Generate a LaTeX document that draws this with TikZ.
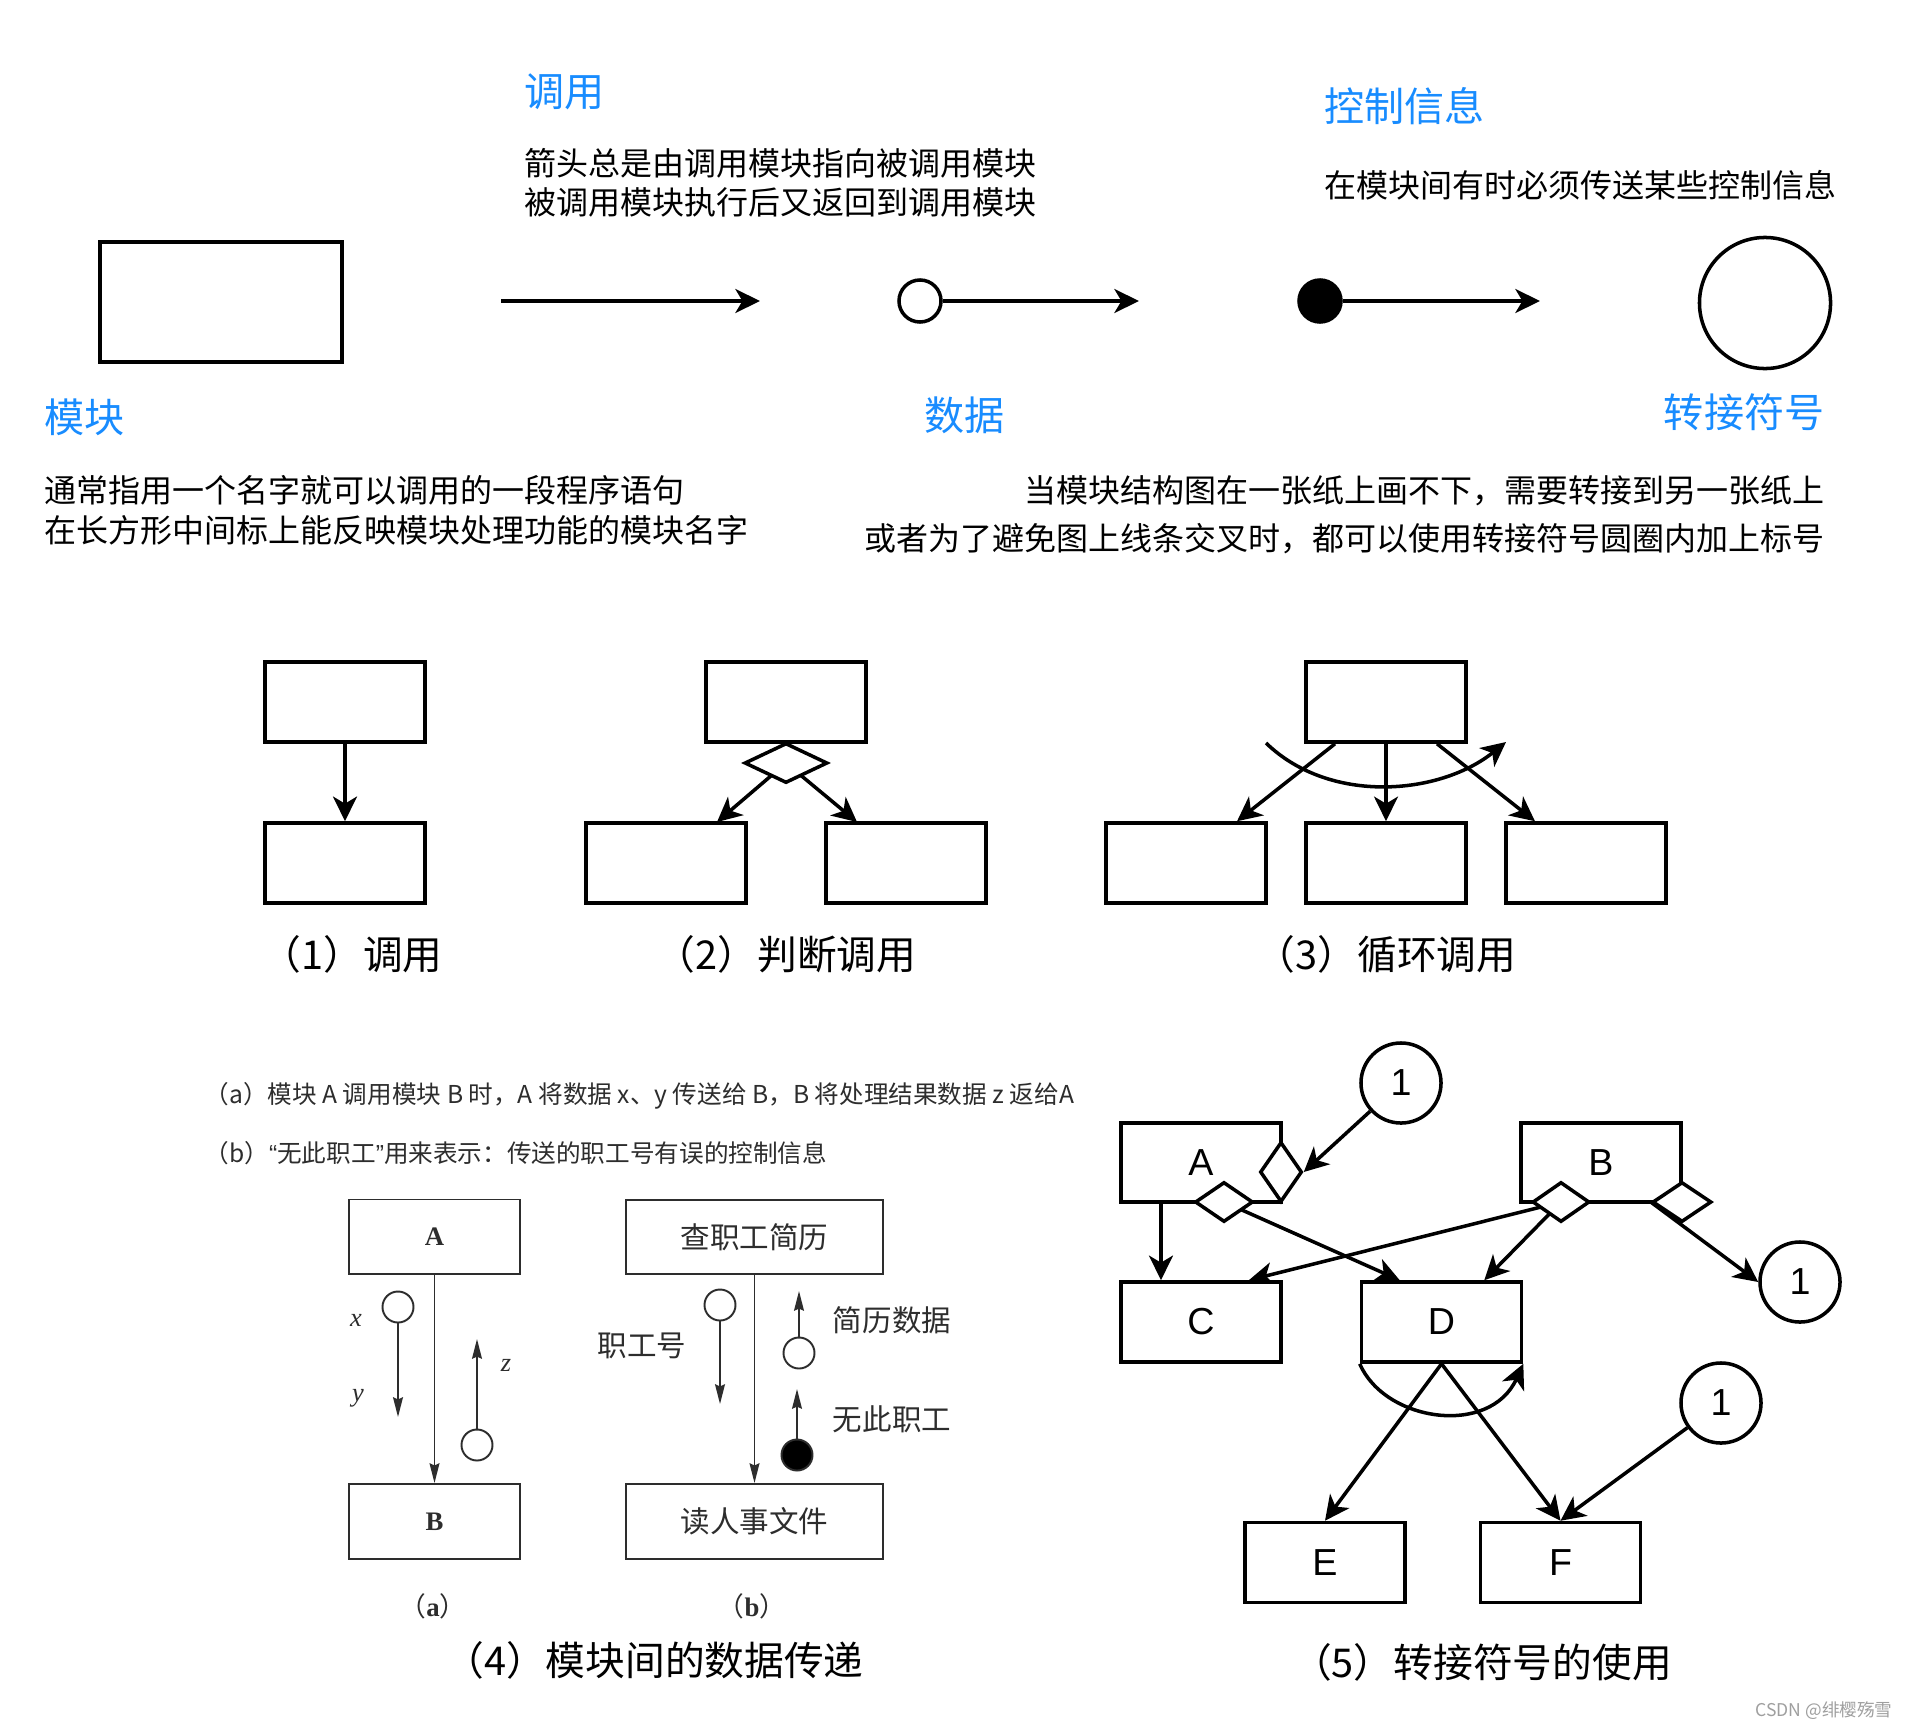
\documentclass[tikz,border=0pt]{standalone}
\usepackage{fontspec}
\setmainfont{Noto Sans CJK SC}
\newfontfamily\latsans{Liberation Sans}
\newfontfamily\latserif{Liberation Serif}
\usetikzlibrary{arrows.meta,shapes.geometric}
\definecolor{hblue}{RGB}{24,140,255}
\definecolor{dgray}{RGB}{45,45,45}
\pgfdeclarelayer{bgl}
\pgfdeclarelayer{lines}
\pgfsetlayers{bgl,lines,main}
\begin{document}
\begin{tikzpicture}[x=0.01cm,y=-0.01cm,
  hd/.style={text=hblue,inner sep=0pt,font=\fontsize{11.4pt}{13pt}\selectfont},
  bodytext/.style={inner sep=0pt,font=\fontsize{9.1pt}{11pt}\selectfont},
  capt/.style={inner sep=0pt,font=\fontsize{11.3pt}{13pt}\selectfont},
  bx/.style={draw,line width=1pt,fill=white,minimum width=1.6cm,minimum height=0.8cm,inner sep=0pt},
  arr/.style={line width=1pt,-{Stealth[length=7pt,width=6.8pt,inset=2pt]}},
  dia/.style={draw,diamond,fill=white,line width=1pt,inner sep=0pt},
  circ/.style={draw,circle,fill=white,line width=1pt,inner sep=0pt},
  lbl/.style={inner sep=0pt,font=\latsans\fontsize{10.7pt}{12pt}\selectfont},
  thinbx/.style={draw=dgray,line width=0.55pt,fill=white,inner sep=0pt},
  sarr/.style={draw=dgray,line width=0.55pt,-{Stealth[length=5.6pt,width=2.8pt,inset=0.6pt]}},
  scirc/.style={draw=dgray,circle,line width=0.55pt,minimum size=0.31cm,inner sep=0pt},
  stext/.style={inner sep=0pt,text=dgray,font=\fontsize{7pt}{8.5pt}\selectfont},
  ctext/.style={inner sep=0pt,text=dgray,font=\fontsize{8.4pt}{10pt}\selectfont},
  itext/.style={inner sep=0pt,text=dgray,font=\latserif\itshape\fontsize{7.5pt}{9pt}\selectfont}]
\begin{pgfonlayer}{bgl}
\fill[white] (0,0) rectangle (1906,1730);
\end{pgfonlayer}
\useasboundingbox (0,0) rectangle (1906,1730);

% ---------------- top legend ----------------
\node[hd,anchor=west] (h1) at (524,92) {调用};
\node[bodytext,anchor=west] (t1a) at (524,163) {箭头总是由调用模块指向被调用模块};
\node[bodytext,anchor=west] (t1b) at (524,202) {被调用模块执行后又返回到调用模块};
\node[hd,anchor=west] (h2) at (1324,106) {控制信息};
\node[bodytext,anchor=west] (t2) at (1324,185) {在模块间有时必须传送某些控制信息};

\node[draw,line width=1pt,minimum width=2.42cm,minimum height=1.2cm,inner sep=0pt] (modrect) at (221,302) {};
\coordinate (callS) at (501,301);
\coordinate (callE) at (760,301);
\draw[arr] (callS) -- (callE);
\node[circ,minimum size=0.42cm] (dcirc) at (920,301) {};
\coordinate (dataE) at (1139,301);
\draw[arr] (dcirc) -- (dataE);
\node[circ,fill=black,minimum size=0.42cm] (ccirc) at (1320,301) {};
\coordinate (ctrlE) at (1540,301);
\draw[arr] (ccirc) -- (ctrlE);
\node[circ,minimum size=1.31cm] (bigc) at (1765,303) {};

\node[hd,anchor=west] (h3) at (44,417) {模块};
\node[hd,anchor=west] (h4) at (924,415) {数据};
\node[hd,anchor=east] (h5) at (1825,412) {转接符号};
\node[bodytext,anchor=west] (t3a) at (44,490) {通常指用一个名字就可以调用的一段程序语句};
\node[bodytext,anchor=west] (t3b) at (44,530) {在长方形中间标上能反映模块处理功能的模块名字};
\node[bodytext,anchor=east] (t4a) at (1825,491) {当模块结构图在一张纸上画不下，需要转接到另一张纸上};
\node[bodytext,anchor=east] (t4b) at (1825,539) {或者为了避免图上线条交叉时，都可以使用转接符号圆圈内加上标号};

% ---------------- (1) ----------------
\node[bx] (p1t) at (345,702) {};
\node[bx] (p1b) at (345,863) {};
\draw[arr] (p1t) -- (p1b);
\node[capt] (cap1) at (352,954) {（1）调用};

% ---------------- (2) ----------------
\node[bx] (p2t) at (786,702) {};
\node[bx] (p2l) at (666,863) {};
\node[bx] (p2r) at (906,863) {};
\coordinate (p2lt) at (717,822);
\coordinate (p2rt) at (857,822);
\node[dia,minimum width=0.83cm,minimum height=0.4cm] (p2d) at (786,763) {};
\begin{pgfonlayer}{lines}
\draw[arr] (p2d.center) -- (p2lt);
\draw[arr] (p2d.center) -- (p2rt);
\end{pgfonlayer}
\node[capt] (cap2) at (786,954) {（2）判断调用};

% ---------------- (3) ----------------
\node[bx] (p3t) at (1386,702) {};
\node[bx] (p3a) at (1186,863) {};
\node[bx] (p3b) at (1386,863) {};
\node[bx] (p3c) at (1586,863) {};
\draw[arr] ([xshift=-0.51cm]p3t.south) -- ([xshift=0.51cm]p3a.north);
\draw[arr] (p3t.south) -- (p3b.north);
\draw[arr] ([xshift=0.51cm]p3t.south) -- ([xshift=-0.51cm]p3c.north);
\coordinate (loopS) at (1266,743);
\coordinate (loopE) at (1506,742);
\draw[arr] (loopS) .. controls (1330,805) and (1440,795) .. (loopE);
\node[capt] (cap3) at (1386,954) {（3）循环调用};

% ---------------- (4) ----------------
\node[stext,anchor=west] (sa) at (204,1096) {（a）模块 A 调用模块 B 时，A 将数据 x、y 传送给 B，B 将处理结果数据 z 返给A};
\node[stext,anchor=west] (sb) at (204,1153) {（b）{\latsans “}无此职工{\latsans ”}用来表示：传送的职工号有误的控制信息};

\node[thinbx,minimum width=1.71cm,minimum height=0.74cm,font=\latserif\bfseries\fontsize{7.6pt}{9pt}\selectfont,text=dgray] (qa) at (434.5,1236.5) {A};
\node[thinbx,minimum width=1.71cm,minimum height=0.75cm,font=\latserif\bfseries\fontsize{7.6pt}{9pt}\selectfont,text=dgray] (qb) at (434.5,1521.5) {B};
\draw[sarr] (qa) -- (qb);
\node[scirc] (qx) at (398,1307) {};
\coordinate (qxE) at (398,1417);
\draw[sarr] (qx) -- (qxE);
\node[scirc] (qz) at (477,1445) {};
\coordinate (qzE) at (477,1339);
\draw[sarr] (qz) -- (qzE);
\node[itext] (lx) at (356,1320) {x};
\node[itext] (ly) at (358,1398) {y};
\node[itext] (lz) at (506,1365) {z};
\node[inner sep=0pt,text=dgray,font=\fontsize{7.6pt}{9pt}\selectfont] (la) at (433,1606) {（{\latserif\bfseries a}）};

\node[thinbx,minimum width=2.57cm,minimum height=0.74cm,font=\fontsize{8.4pt}{10pt}\selectfont,text=dgray] (qc) at (754.5,1237) {查职工简历};
\node[thinbx,minimum width=2.57cm,minimum height=0.75cm,font=\fontsize{8.4pt}{10pt}\selectfont,text=dgray] (qd) at (754.5,1521.5) {读人事文件};
\draw[sarr] (qc) -- (qd);
\node[scirc] (qn) at (720,1305) {};
\coordinate (qnE) at (720,1404);
\draw[sarr] (qn) -- (qnE);
\node[scirc] (qr) at (799,1353) {};
\coordinate (qrE) at (799,1291);
\draw[sarr] (qr) -- (qrE);
\node[scirc,fill=black] (qw) at (797,1455) {};
\coordinate (qwE) at (797,1389);
\draw[sarr] (qw) -- (qwE);
\node[ctext] (ln) at (642,1346) {职工号};
\node[ctext] (lr) at (892,1320) {简历数据};
\node[ctext] (lw) at (892,1419) {无此职工};
\node[inner sep=0pt,text=dgray,font=\fontsize{7.6pt}{9pt}\selectfont] (lb) at (752,1606) {（{\latserif\bfseries b}）};
\node[capt] (cap4) at (654,1660) {（4）模块间的数据传递};

% ---------------- (5) ----------------
\node[bx,lbl,minimum height=0.79cm] (A) at (1201,1162.5) {A};
\node[bx,lbl,minimum height=0.79cm] (B) at (1601,1162.5) {B};
\node[bx,lbl,minimum height=0.8cm] (C) at (1201,1322) {C};
\node[bx,lbl,minimum height=0.8cm] (D) at (1441.5,1322) {D};
\node[bx,lbl,minimum height=0.8cm] (E) at (1325,1562.5) {E};
\node[bx,lbl,minimum height=0.8cm] (F) at (1560.5,1562.5) {F};
\node[dia,minimum width=0.42cm,minimum height=0.6cm] (dA1) at (1281,1172) {};
\node[dia,minimum width=0.58cm,minimum height=0.4cm] (dA2) at (1224,1202) {};
\node[dia,minimum width=0.57cm,minimum height=0.4cm] (dB1) at (1561,1202) {};
\node[dia,minimum width=0.59cm,minimum height=0.4cm] (dB2) at (1682,1202) {};
\node[circ,lbl,minimum size=0.8cm] (k1) at (1401,1083) {1};
\node[circ,lbl,minimum size=0.8cm] (k2) at (1800,1282) {1};
\node[circ,lbl,minimum size=0.8cm] (k3) at (1721,1403) {1};
\begin{pgfonlayer}{lines}
\draw[arr] ([xshift=-0.4cm]A.south) -- ([xshift=-0.4cm]C.north);
\draw[arr] (dA2.center) -- ([xshift=0.4cm]D.north west);
\draw[arr] (dB1.center) -- ([xshift=-0.34cm]C.north east);
\draw[arr] (dB1.center) -- ([xshift=-0.39cm]D.north east);
\draw[arr] (dB2.west) -- (k2.west);
\end{pgfonlayer}
\draw[arr] (k1) -- (dA1.east);
\draw[arr] (D.south) -- (E.north);
\draw[arr] (D.south) -- (F.north);
\draw[arr] (k3) -- (F.north);
\draw[arr] (D.south west) .. controls (1385,1422) and (1490,1437) .. (D.south east);
\node[capt] (cap5) at (1482,1662) {（5）转接符号的使用};

\node[inner sep=0pt,text=gray!75,font=\fontsize{5pt}{6pt}\selectfont] (wm) at (1824,1711) {CSDN @绯樱殇雪};
\end{tikzpicture}
\end{document}
